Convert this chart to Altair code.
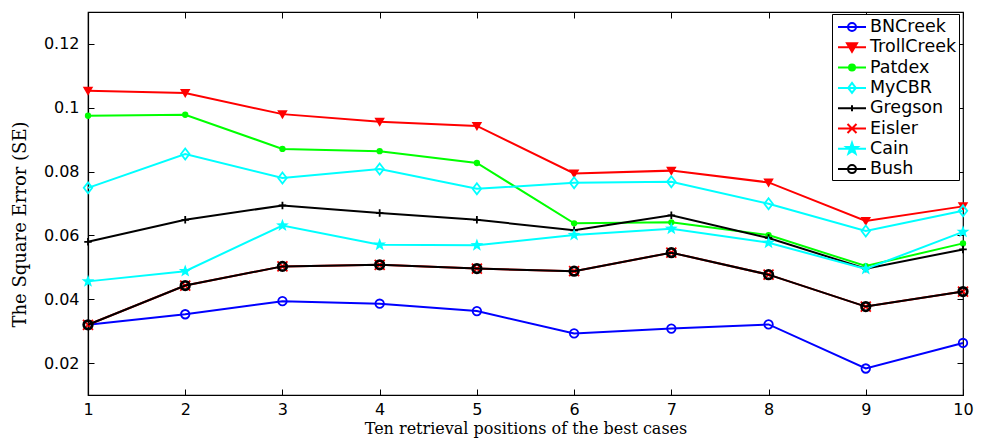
import math
import altair as alt
import pandas as pd

# ---------------- data ----------------
positions = [1, 2, 3, 4, 5, 6, 7, 8, 9, 10]
names = ["BNCreek", "TrollCreek", "Patdex", "MyCBR", "Gregson", "Eisler", "Cain", "Bush"]

bncreek = [0.0320, 0.0353, 0.0394, 0.0386, 0.0363, 0.0293, 0.0308, 0.0321, 0.0183, 0.0263]
trollcreek = [0.1053, 0.1046, 0.0980, 0.0956, 0.0943, 0.0794, 0.0803, 0.0766, 0.0645, 0.0691]
patdex = [0.0975, 0.0978, 0.0871, 0.0864, 0.0827, 0.0638, 0.0641, 0.0601, 0.0504, 0.0575]
mycbr = [0.0749, 0.0855, 0.0780, 0.0808, 0.0746, 0.0765, 0.0768, 0.0699, 0.0614, 0.0677]
gregson = [0.0580, 0.0649, 0.0694, 0.0670, 0.0649, 0.0616, 0.0663, 0.0592, 0.0496, 0.0556]
eisler = [0.0320, 0.0443, 0.0503, 0.0508, 0.0496, 0.0488, 0.0546, 0.0477, 0.0377, 0.0424]
cain = [0.0456, 0.0488, 0.0631, 0.0571, 0.0569, 0.0601, 0.0621, 0.0577, 0.0495, 0.0611]
bush = [0.0320, 0.0443, 0.0503, 0.0508, 0.0496, 0.0488, 0.0546, 0.0477, 0.0377, 0.0424]

y_ticks = [0.02, 0.04, 0.06, 0.08, 0.10, 0.12]

series_values = [bncreek, trollcreek, patdex, mycbr, gregson, eisler, cain, bush]
rows = []
for nm, vals in zip(names, series_values):
    for p, v in zip(positions, vals):
        rows.append({"series": nm, "position": p, "value": v})
df = pd.DataFrame(rows)

# ---------------- styles ----------------
colors = ["#0000ff", "#ff0000", "#00ff00", "#00ffff", "#000000", "#ff0000", "#00ffff", "#000000"]
W, H = 875, 383


def star(R, r, cx=0.0):
    pts = []
    for k in range(10):
        a = math.radians(-90 + 36 * k)
        rad = R if k % 2 == 0 else r
        pts.append((cx + rad * math.cos(a), rad * math.sin(a)))
    return "M" + "L".join(f"{x:.3f},{y:.3f}" for x, y in pts) + "Z"


def circ(r, cx=0.0):
    return f"M{cx - r},0A{r},{r},0,1,1,{cx + r},0A{r},{r},0,1,1,{cx - r},0Z"


# plot markers (size 100 -> 1 unit = 5px)
marker_shape = [
    "circle",
    "M-1.05,-0.8L1.05,-0.8L0,1Z",
    "circle",
    "M0,-1.1L0.85,0L0,1.1L-0.85,0Z",
    "M-0.75,0L0.75,0M0,-0.75L0,0.75",
    "M-1,-1L1,1M-1,1L1,-1",
    star(1.35, 0.55),
    "circle",
]
marker_size = [72, 100, 40, 100, 100, 100, 100, 72]
marker_filled = [False, True, True, False, False, False, True, False]
marker_sw = [1.8, 1, 1, 1.8, 1.8, 1.8, 1, 2.8]

# legend symbols (size 400 -> 1 unit = 10px), line + marker, shifted right
cx = 0.7
line = f"M{-1.4 + cx},0L{1.4 + cx},0"
legend_paths = [
    line + circ(0.4, cx),
    line + f"M{cx - 0.5},-0.4L{cx + 0.5},-0.4L{cx},0.45Z",
    line + circ(0.3, cx),
    line + f"M{cx},-0.5L{cx + 0.38},0L{cx},0.5L{cx - 0.38},0Z",
    line + f"M{cx - 0.3},0L{cx + 0.3},0M{cx},-0.3L{cx},0.3",
    line + f"M{cx - 0.45},-0.45L{cx + 0.45},0.45M{cx - 0.45},0.45L{cx + 0.45},-0.45",
    line + star(0.6, 0.24, cx),
    line + circ(0.4, cx),
]
legend_fill = [c if f else "transparent" for c, f in zip(colors, marker_filled)]

xscale = alt.Scale(domain=[1, 10], nice=False, zero=False)
yscale = alt.Scale(domain=[0.01, 0.13], nice=False, zero=False)

xenc = alt.X(
    "position:Q", scale=xscale,
    axis=alt.Axis(values=positions, format="d", ticks=False, tickSize=0, grid=False,
                  labelPadding=19, labelBaseline="alphabetic", labelFlush=False, domain=True,
                  title="Ten retrieval positions of the best cases",
                  titleBaseline="alphabetic", titleY=38, titleFontSize=16),
)
yenc = alt.Y(
    "value:Q", scale=yscale,
    axis=alt.Axis(values=y_ticks, format="~g", ticks=False, tickSize=0, grid=False,
                  labelPadding=9, labelFlush=False, domain=True,
                  title="The Square Error (SE)", titleAngle=270,
                  titleBaseline="alphabetic", titleX=-63, titleY=212, titleFontSize=18),
)

base = alt.Chart(df)
layers = []
for i, nm in enumerate(names):
    sub = base.transform_filter(alt.datum.series == nm)
    layers.append(sub.mark_line(color=colors[i], strokeWidth=2).encode(x=xenc, y=yenc))
    layers.append(
        sub.mark_point(
            shape=marker_shape[i], size=marker_size[i], filled=marker_filled[i],
            color=colors[i], strokeWidth=marker_sw[i], opacity=1,
        ).encode(x=xenc, y=yenc)
    )

leg = alt.Legend(
    title=None, orient="none", legendX=744, legendY=2,
    padding=2, strokeColor="black", fillColor="white",
    symbolSize=400, symbolStrokeWidth=2, symbolOpacity=1,
    labelFont="DejaVu Sans", labelFontSize=17.5, labelColor="black",
    labelOffset=14, rowPadding=0.3, labelBaseline="middle",
)
legend_layer = base.transform_filter("false").mark_point(opacity=1, filled=False).encode(
    x=xenc, y=yenc,
    shape=alt.Shape("series:N", scale=alt.Scale(domain=names, range=legend_paths), legend=leg),
    stroke=alt.Stroke("series:N", scale=alt.Scale(domain=names, range=colors), legend=leg),
    fill=alt.Fill("series:N", scale=alt.Scale(domain=names, range=legend_fill), legend=leg),
)
layers.append(legend_layer)

main = alt.layer(*layers)

tick_axis = dict(labels=False, domain=False, grid=False, ticks=True, tickSize=6,
                 tickColor="black", tickWidth=1, title=None)
tickA = base.transform_filter("false").mark_point().encode(
    x=alt.X("position:Q", scale=xscale, axis=alt.Axis(orient="top", offset=-H, values=positions, **tick_axis)),
    y=alt.Y("value:Q", scale=yscale, axis=alt.Axis(orient="right", offset=-W, values=y_ticks, **tick_axis)),
)
tickB = base.transform_filter("false").mark_point().encode(
    x=alt.X("position:Q", scale=xscale, axis=alt.Axis(orient="bottom", offset=-H, values=positions, **tick_axis)),
    y=alt.Y("value:Q", scale=yscale, axis=alt.Axis(orient="left", offset=-W, values=y_ticks, **tick_axis)),
)

chart = (
    alt.layer(main, tickA, tickB)
    .resolve_scale(x="independent", y="independent")
    .properties(
        width=W, height=H,
        padding={"left": 80, "top": 4, "right": 12, "bottom": 46},
        autosize=alt.AutoSizeParams(type="none"),
        background="white",
    )
    .configure_view(stroke="black", strokeWidth=1.2)
    .configure_axis(
        labelFont="DejaVu Sans", labelFontSize=16, labelColor="black",
        titleFont="DejaVu Serif", titleFontWeight="normal", titleColor="black",
        domainColor="black", domainWidth=1.2, tickColor="black",
    )
)

chart.save("out.html", embed_options={"renderer": "svg", "actions": False})
